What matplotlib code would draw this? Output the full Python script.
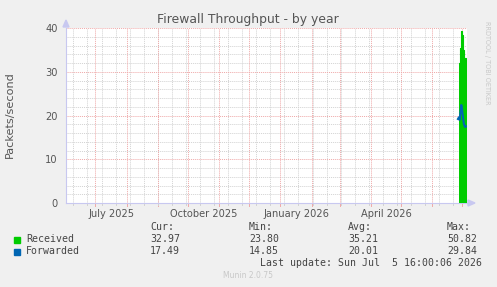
import matplotlib
matplotlib.use("Agg")
import matplotlib.pyplot as plt
import numpy as np
import pandas as pd

# ---- data ----
title = "Firewall Throughput - by year"
ylabel = "Packets/second"
range_start = "2025-06-01 16:00"
range_end = "2026-07-05 16:00"

received_dates = ["2026-06-28 00:00", "2026-06-29 00:00", "2026-06-29 16:00", "2026-06-30 12:00",
                  "2026-07-01 12:00", "2026-07-02 12:00", "2026-07-03 16:00", "2026-07-04 16:00",
                  "2026-07-05 16:00"]
received_values = [32.0, 35.5, 39.3, 38.5, 35.0, 33.2, 33.1, 33.0, 32.97]

forwarded_dates = ["2026-06-26 16:00", "2026-06-27 16:00", "2026-06-28 08:00", "2026-06-29 08:00",
                   "2026-06-30 00:00", "2026-06-30 16:00", "2026-07-01 16:00", "2026-07-02 16:00",
                   "2026-07-03 16:00", "2026-07-04 16:00"]
forwarded_values = [19.2, 19.6, 19.0, 21.0, 22.4, 21.5, 19.5, 18.0, 17.4, 17.49]

x_labels = ["July 2025", "October 2025", "January 2026", "April 2026"]
x_label_dates = ["2025-07-16 16:00", "2025-10-16 16:00", "2026-01-16 16:00", "2026-04-16 16:00"]
y_ticks = [0, 10, 20, 30, 40]

legend_names = ["Received", "Forwarded"]
legend_colors = ["#00CC00", "#0066B3"]
stat_headers = ["Cur:", "Min:", "Avg:", "Max:"]
stats = [["32.97", "23.80", "35.21", "50.82"],
         ["17.49", "14.85", "20.01", "29.84"]]
last_update = "Last update: Sun Jul  5 16:00:06 2026"
footer = "Munin 2.0.75"
side_text = "RRDTOOL / TOBI OETIKER"

# ---- figure ----
W, H = 497, 287
fig = plt.figure(figsize=(W / 100, H / 100), dpi=100, facecolor="#F0F0F0")
L, R, T, B = 66, 467, 28, 203
ax = fig.add_axes([L / W, 1 - B / H, (R - L) / W, (B - T) / H])
ax.set_facecolor("white")

x0 = pd.Timestamp(range_start)
x1 = pd.Timestamp(range_end)
ax.set_xlim(x0, x1)
ax.set_ylim(0, 40)

dot = (0, (1, 1))
minor_c = "#D2D2D2"
major_c = "#EFA8A8"
# horizontal grid
for v in np.arange(2, 40, 2):
    if v % 10 != 0:
        ax.axhline(v, color=minor_c, lw=0.7, ls=dot, zorder=1)
for v in [10, 20, 30, 40]:
    ax.axhline(v, color=major_c, lw=0.7, ls=dot, zorder=1.5)
# vertical minor grid: every 2 weeks (Mondays)
d = pd.Timestamp("2026-03-16")
minors = []
while d > x0:
    minors.append(d)
    d -= pd.Timedelta(days=14)
d = pd.Timestamp("2026-03-30")
while d < x1:
    minors.append(d)
    d += pd.Timedelta(days=14)
for m in minors:
    ax.axvline(m, color=minor_c, lw=0.7, ls=dot, zorder=1)
# vertical major grid: month starts
months = pd.date_range("2025-07-01", x1, freq="MS")
for m in months:
    ax.axvline(m, color=major_c, lw=0.7, ls=dot, zorder=1.5)

# data
rd = pd.to_datetime(received_dates)
ax.fill_between(rd, received_values, 0, step="post", color=legend_colors[0], lw=0, zorder=3)
ax.step(rd, received_values, where="post", color=legend_colors[0], lw=0.8, zorder=3)
fd = pd.to_datetime(forwarded_dates)
ax.plot(fd, forwarded_values, color=legend_colors[1], lw=1.5, zorder=4)

# axes styling
for s in ["top", "right"]:
    ax.spines[s].set_visible(False)
axis_c = "#C8C8F0"
ax.spines["left"].set_color(axis_c)
ax.spines["bottom"].set_color(axis_c)
ax.spines["left"].set_linewidth(0.8)
ax.spines["bottom"].set_linewidth(0.8)
ax.set_yticks(y_ticks)
ax.set_yticklabels([str(v) for v in y_ticks])
ax.set_xticks(pd.to_datetime(x_label_dates))
ax.set_xticklabels(x_labels)
ax.tick_params(axis="both", length=0, labelsize=7.1, colors="#555555", pad=6)
ax.tick_params(axis="x", pad=4)
# small tick marks under the axis
for m in months:
    ax.plot([m, m], [0, -0.7], color=major_c, lw=0.7, clip_on=False, zorder=2)
for m in minors:
    ax.plot([m, m], [0, -0.4], color=minor_c, lw=0.7, clip_on=False, zorder=2)

fig.text(10 / W, 1 - 115 / H, ylabel, rotation=90, ha="center", va="center",
         fontsize=8.1, color="#555555")

# arrows
fig.patches.append(matplotlib.patches.Polygon(
    [[(L - 3) / W, 1 - (T - 1) / H], [(L + 3) / W, 1 - (T - 1) / H], [L / W, 1 - (T - 8) / H]],
    closed=True, transform=fig.transFigure, color=axis_c, zorder=5))
fig.patches.append(matplotlib.patches.Polygon(
    [[(R + 1) / W, 1 - (B - 3) / H], [(R + 1) / W, 1 - (B + 3) / H], [(R + 8) / W, 1 - B / H]],
    closed=True, transform=fig.transFigure, color=axis_c, zorder=5))
fig.add_artist(plt.Line2D([R / W, (R + 2) / W], [1 - B / H, 1 - B / H], color=axis_c, lw=0.8))

# title and side text
fig.text(248 / W, 1 - 19 / H, title, ha="center", va="center", fontsize=8.9, color="#555555")
fig.text(487.5 / W, 1 - 21 / H, side_text, ha="center", va="top", rotation=-90,
         fontsize=4.7, color="#C8C8C8")

# legend
mono = "DejaVu Sans Mono"
fs = 7.1
tc = "#444444"
cols = [150, 249, 348, 447]
for h, cx in zip(stat_headers, cols):
    fig.text(cx / W, 1 - 227.5 / H, h, ha="left", va="center", family=mono, fontsize=fs, color=tc)
rows = [239.5, 251.5]
for name, col, vals, y in zip(legend_names, legend_colors, stats, rows):
    fig.patches.append(matplotlib.patches.Rectangle(
        (14 / W, 1 - (y + 3) / H), 6 / W, 6 / H, transform=fig.transFigure, color=col))
    fig.text(26 / W, 1 - y / H, name, ha="left", va="center", family=mono, fontsize=fs, color=tc)
    for v, cx in zip(vals, cols):
        fig.text(cx / W, 1 - y / H, v, ha="left", va="center", family=mono, fontsize=fs, color=tc)
fig.text(482.5 / W, 1 - 263.5 / H, last_update, ha="right", va="center", family=mono,
         fontsize=fs, color=tc)
fig.text(248 / W, 1 - 276 / H, footer, ha="center", va="center", fontsize=5.5, color="#C8C8C8")

fig.savefig("out.png", dpi=100, facecolor=fig.get_facecolor())
